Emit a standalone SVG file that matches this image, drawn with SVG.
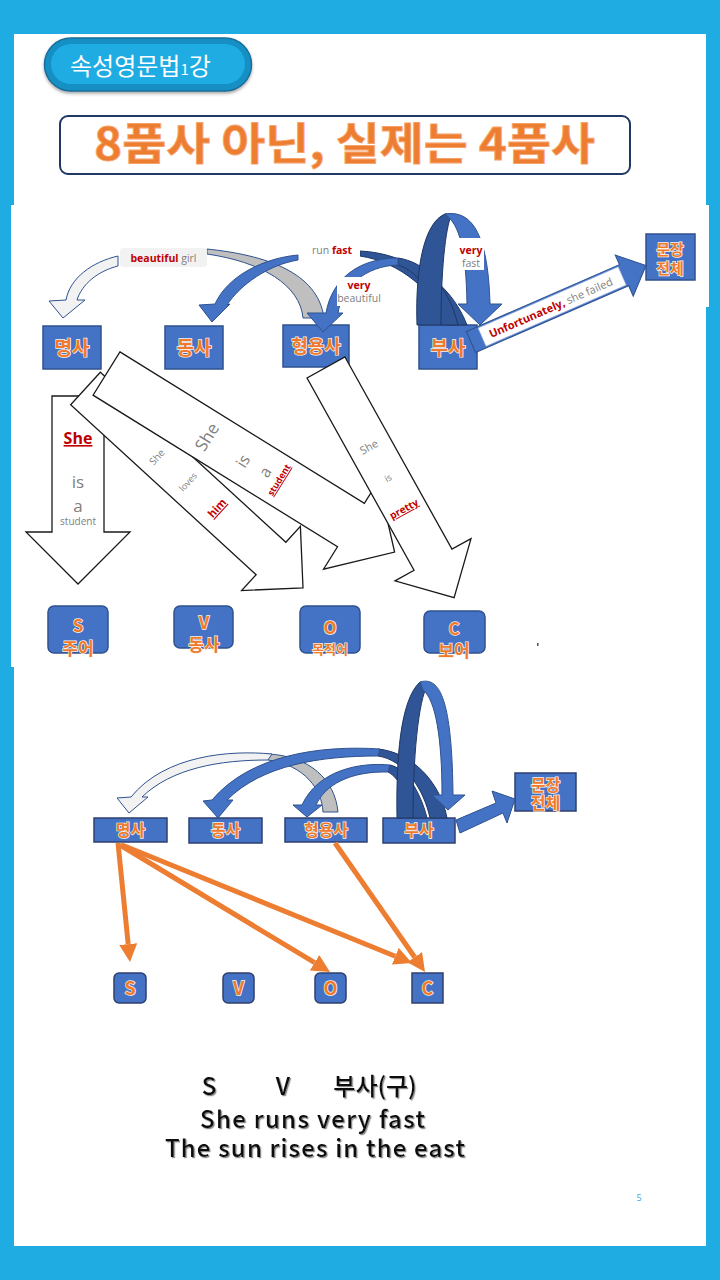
<svg xmlns="http://www.w3.org/2000/svg" width="720" height="1280" viewBox="0 0 720 1280">
<defs>
<style>
.nb{fill:#4472C4;stroke:#2F528F;stroke-width:1.5}
.nl{font-family:"Noto Sans CJK KR","Noto Sans",sans-serif;font-weight:700;fill:#F07A2C;stroke:#FFF3EA;stroke-width:1.4px;paint-order:stroke;text-anchor:middle}
.wa{fill:#FFFFFF;stroke:#1A1A1A;stroke-width:1.3;stroke-linejoin:miter}
.en{font-family:"Open Sans","Noto Sans",sans-serif}
.gy{fill:#808080}
.rd{fill:#C00000;font-weight:700}
.ul{text-decoration:underline}
.lt{fill:#F2F2F2;stroke:#2F528F;stroke-width:1}
.gr{fill:#BFBFBF;stroke:#2F528F;stroke-width:1}
.bf{fill:#4472C4;stroke:#2F528F;stroke-width:1}
.bk{fill:#2F5597;stroke:#203864;stroke-width:1}
.or{stroke:#ED7D31;stroke-width:5;fill:none;marker-end:url(#oh)}
.sv{fill:#4472C4;stroke:#2F3F6F;stroke-width:1.5}
.bt{font-family:"Noto Sans CJK KR","Open Sans",sans-serif;font-size:24px;font-weight:500;fill:#111111;text-anchor:middle;filter:url(#sh)}
</style>
<marker id="oh" markerUnits="userSpaceOnUse" markerWidth="18" markerHeight="18" refX="0" refY="9" orient="auto" viewBox="0 0 18 18"><path d="M0,0 L18,9 L0,18 Z" fill="#ED7D31"/></marker>
<filter id="sh" x="-5%" y="-20%" width="110%" height="150%"><feDropShadow dx="1.2" dy="1.2" stdDeviation="0.7" flood-color="#8A8A8A"/></filter>
<filter id="ps" x="-10%" y="-20%" width="120%" height="150%"><feDropShadow dx="0" dy="2" stdDeviation="1.5" flood-color="#555" flood-opacity="0.5"/></filter>
</defs>

<rect x="0" y="0" width="720" height="1280" fill="#1FACE3"/>
<rect x="14" y="34" width="692" height="1212" fill="#FFFFFF"/>
<rect x="11" y="205" width="698" height="102" fill="#FFFFFF"/>
<rect x="11" y="307" width="695" height="360" fill="#FFFFFF"/>

<g id="header-pill">
<rect x="44.5" y="38" width="207" height="53" rx="26.5" fill="#1790C4" stroke="#14709C" stroke-width="1.5" filter="url(#ps)"/>
<rect x="51" y="44" width="194" height="40" rx="20" fill="#1FACE3"/>
<text x="70" y="75" font-family="'Noto Sans CJK KR','Noto Sans',sans-serif" font-size="24" fill="#FFFFFF">속성영문법<tspan font-size="15">1</tspan>강</text>
</g>

<g id="title">
<rect x="60" y="116" width="570" height="58" rx="8" fill="#FFFFFF" stroke="#1F3864" stroke-width="2"/>
<text x="94" y="160" textLength="501" lengthAdjust="spacingAndGlyphs" font-family="'Noto Sans CJK KR','Noto Sans',sans-serif" font-weight="700" font-size="44" fill="#ED7D31" stroke="#F6A56E" stroke-width="0.8">8품사 아닌, 실제는 4품사</text>
</g>

<!-- upper nodes -->
<g id="u-noun"><rect class="nb" x="43" y="326" width="58" height="43"/><text class="nl" x="72" y="355" font-size="19">명사</text></g>
<g id="u-verb"><rect class="nb" x="165" y="326" width="58" height="43"/><text class="nl" x="194" y="355" font-size="19">동사</text></g>
<g id="u-adj"><rect class="nb" x="283" y="325" width="66" height="42"/><text class="nl" x="316" y="353" font-size="18">형용사</text></g>
<g id="u-adv"><rect class="nb" x="419" y="325" width="58" height="44"/><text class="nl" x="448" y="355" font-size="19">부사</text></g>
<g id="u-sent"><rect class="nb" x="646" y="234" width="49" height="46"/><text class="nl" x="670" y="255" font-size="15">문장</text><text class="nl" x="670" y="274" font-size="15">전체</text></g>

<g id="u-S"><rect class="nb" x="48" y="606" width="60" height="47" rx="6"/><text class="nl" x="78" y="632" font-size="17">S</text><text class="nl" x="78" y="655" font-size="17">주어</text></g>
<g id="u-V"><rect class="nb" x="174" y="606" width="59" height="42" rx="6"/><text class="nl" x="204" y="629" font-size="17">V</text><text class="nl" x="204" y="651" font-size="17">동사</text></g>
<g id="u-O"><rect class="nb" x="300" y="606" width="60" height="47" rx="6"/><text class="nl" x="330" y="634" font-size="17">O</text><text class="nl" x="330" y="654" font-size="13">목적어</text></g>
<g id="u-C"><rect class="nb" x="424" y="611" width="61" height="42" rx="6"/><text class="nl" x="454" y="635" font-size="17">C</text><text class="nl" x="454" y="657" font-size="17">보어</text></g>

<rect x="537" y="643" width="1.5" height="3" fill="#555555"/>

<!-- upper connectors -->
<g id="u-connectors">
<path class="gr" d="M207,249 C265,255 318,272 324,318 L303,318 C300,285 262,262 207,254 Z"/>
<path class="lt" d="M118,256 C92,262 70,278 66,300 L49,301 L63,318 L85,300 L77,300 C82,284 98,271 118,266 Z"/>
<rect x="120" y="248" width="87" height="19" rx="3" fill="#F2F2F2"/>
<text class="en" x="163.5" y="262" font-size="10.5" text-anchor="middle"><tspan class="rd">beautiful</tspan><tspan class="gy"> girl</tspan></text>

<path class="bk" d="M360,251 C405,253 450,280 467,325 L447,325 C435,292 400,262 360,256 Z"/>
<path class="bk" d="M398,258 C425,262 448,285 458,325 L440,325 C432,295 420,272 398,265 Z"/>
<path class="bk" d="M417,325 C415,265 425,222 445,214 L452,214 C447,222 441,260 441,325 Z"/>
<path class="bf" d="M445,214 C470,210 488,230 490,304 L502,304 L480,325 L458,304 L467,304 C466,250 460,225 445,214 Z"/>
<path class="bf" d="M298,255 C265,258 228,275 215,304 L199,305 L212,322 L230,304 L227,305 C240,285 268,265 298,260 Z"/>
<path class="bf" d="M398,258 C360,258 332,278 326,313 L307,313 L323,332 L343,313 L338,313 C342,287 365,266 398,265 Z"/>

<rect x="303" y="243" width="57" height="16" fill="#FFFFFF"/>
<text class="en" x="312" y="254" font-size="10.5"><tspan class="gy">run </tspan><tspan class="rd">fast</tspan></text>
<rect x="337" y="277" width="48" height="29" fill="#FFFFFF"/>
<text class="en rd" x="359" y="289" font-size="10.5" text-anchor="middle">very</text>
<text class="en gy" x="359" y="302" font-size="10.5" text-anchor="middle">beautiful</text>
<rect x="456" y="238" width="28" height="32" fill="#FFFFFF"/>
<text class="en rd" x="471" y="254" font-size="10.5" text-anchor="middle">very</text>
<text class="en gy" x="471" y="267" font-size="10.5" text-anchor="middle">fast</text>

<g transform="translate(471,342) rotate(-23.6)">
<path class="bf" d="M0,-11.5 L167,-11.5 L167,-22 L191,0 L167,23 L167,11.5 L0,11.5 Z"/>
<rect x="12" y="-10" width="153" height="20" fill="#FFFFFF" stroke="#8FAADC" stroke-width="0.6"/>
<text class="en" x="20" y="4.5" font-size="11"><tspan class="rd">Unfortunately,</tspan><tspan class="gy"> she failed</tspan></text>
</g>

<polygon class="wa" points="52,396 104,396 104,532 130,532 78,584 26,532 52,532"/>
<text class="en rd ul" x="78" y="444" font-size="16" text-anchor="middle">She</text>
<text class="en gy" x="78" y="488" font-size="17" text-anchor="middle">is</text>
<text class="en gy" x="78" y="512" font-size="17" text-anchor="middle">a</text>
<text class="en gy" x="78" y="525" font-size="10" text-anchor="middle">student</text>

<path class="wa" transform="translate(85.5,388.5) rotate(42.5)" d="M0,-22 L251.6,-22 L251.6,-43.5 L295,0 L251.6,43.5 L251.6,22 L0,22 Z"/>
<text class="en gy" transform="translate(157,457) rotate(-47.5)" font-size="10" text-anchor="middle" dy="0.35em">She</text>
<text class="en gy" transform="translate(188,482) rotate(-47.5)" font-size="9" text-anchor="middle" dy="0.35em">loves</text>
<text class="en rd ul" transform="translate(217,508) rotate(-47.5)" font-size="11" text-anchor="middle" dy="0.35em">him</text>

<path class="wa" transform="translate(106.5,373.5) rotate(31.8)" d="M0,-25.5 L287.6,-25.5 L287.6,-52 L339,0 L287.6,52 L287.6,25.5 L0,25.5 Z"/>
<text class="en gy" transform="translate(207,437) rotate(-58.2)" font-size="17" text-anchor="middle" dy="0.35em">She</text>
<text class="en gy" transform="translate(243,461) rotate(-58.2)" font-size="16" text-anchor="middle" dy="0.35em">is</text>
<text class="en gy" transform="translate(265,472) rotate(-58.2)" font-size="16" text-anchor="middle" dy="0.35em">a</text>
<text class="en rd ul" transform="translate(279,480) rotate(-58.2)" font-size="9" text-anchor="middle" dy="0.35em">student</text>

<path class="wa" transform="translate(326,367.5) rotate(60.9)" d="M0,-21.7 L220,-21.7 L220,-43.5 L263.4,0 L220,43.5 L220,21.7 L0,21.7 Z"/>
<text class="en gy" transform="translate(369,447) rotate(-29)" font-size="11" text-anchor="middle" dy="0.35em">She</text>
<text class="en gy" transform="translate(388,478) rotate(-29)" font-size="9" text-anchor="middle" dy="0.35em">is</text>
<text class="en rd ul" transform="translate(404,509) rotate(-29)" font-size="10" text-anchor="middle" dy="0.35em">pretty</text>
</g>

<!-- lower nodes -->
<g id="l-noun"><rect class="sv" x="94" y="818" width="73" height="24"/><text class="nl" x="130.5" y="836" font-size="16">명사</text></g>
<g id="l-verb"><rect class="sv" x="189" y="818" width="73" height="25"/><text class="nl" x="225.5" y="836" font-size="16">동사</text></g>
<g id="l-adj"><rect class="sv" x="285" y="818" width="82" height="24"/><text class="nl" x="326" y="836" font-size="16">형용사</text></g>
<g id="l-adv"><rect class="sv" x="383" y="818" width="72" height="25"/><text class="nl" x="419" y="836" font-size="16">부사</text></g>
<g id="l-sent"><rect class="sv" x="515" y="773" width="61" height="38"/><text class="nl" x="545.5" y="791" font-size="16">문장</text><text class="nl" x="545.5" y="809" font-size="16">전체</text></g>

<g id="l-S"><rect class="sv" x="114" y="973" width="32" height="30" rx="5"/><text class="nl" x="130" y="995" font-size="18">S</text></g>
<g id="l-V"><rect class="sv" x="223" y="973" width="31" height="30" rx="5"/><text class="nl" x="238.5" y="995" font-size="18">V</text></g>
<g id="l-O"><rect class="sv" x="315" y="973" width="31" height="30" rx="5"/><text class="nl" x="330.5" y="995" font-size="18">O</text></g>
<g id="l-C"><rect class="sv" x="412" y="973" width="31" height="30"/><text class="nl" x="427.5" y="995" font-size="18">C</text></g>

<!-- lower connectors -->
<g id="l-connectors">
<path class="gr" d="M268,754 C310,756 335,780 338,812 L323,812 C322,790 305,765 268,760 Z"/>
<path class="lt" d="M272,754 C230,750 165,755 131,797 L117,798 L129,813 L148,797 L142,797 C172,768 220,760 268,760 Z"/>
<path class="bk" d="M378,749 C410,752 440,780 447,818 L430,818 C424,790 405,760 378,756 Z"/>
<path class="bk" d="M390,765 C405,768 420,790 427,818 L413,818 C410,800 400,778 388,772 Z"/>
<path class="bk" d="M397,818 C396,760 400,700 420,682 L428,684 C418,700 413,760 413,818 Z"/>
<path class="bf" d="M420,682 C440,676 452,700 453,795 L465,795 L448,810 L432,795 L442,795 C442,740 436,700 423,690 Z"/>
<path class="bf" d="M380,749 C320,745 250,755 212,800 L203,801 L218,818 L233,800 L227,800 C262,765 320,756 378,756 Z"/>
<path class="bf" d="M390,765 C360,762 318,770 302,805 L293,805 L307,817 L322,805 L316,805 C325,785 350,771 388,772 Z"/>
<polygon class="bf" points="456,820 496,803 492,791 515,799 507,823 503,813 460,833"/>

<line class="or" x1="118" y1="843" x2="128.2" y2="944.1"/>
<line class="or" x1="120" y1="845" x2="314.6" y2="962.7"/>
<line class="or" x1="122" y1="845" x2="395.3" y2="956.2"/>
<line class="or" x1="335" y1="843" x2="414.7" y2="957.2"/>
</g>

<g id="bottom-text">
<text class="bt" x="209" y="1095">S</text>
<text class="bt" x="283" y="1095">V</text>
<text class="bt" x="375" y="1095">부사(구)</text>
<text class="bt" x="312.5" y="1128" textLength="225" lengthAdjust="spacing">She runs very fast</text>
<text class="bt" x="315" y="1157" textLength="300" lengthAdjust="spacing">The sun rises in the east</text>
</g>

<text x="639" y="1201" font-family="'Open Sans',sans-serif" font-size="9" fill="#3FA9E0" text-anchor="middle">5</text>
</svg>
